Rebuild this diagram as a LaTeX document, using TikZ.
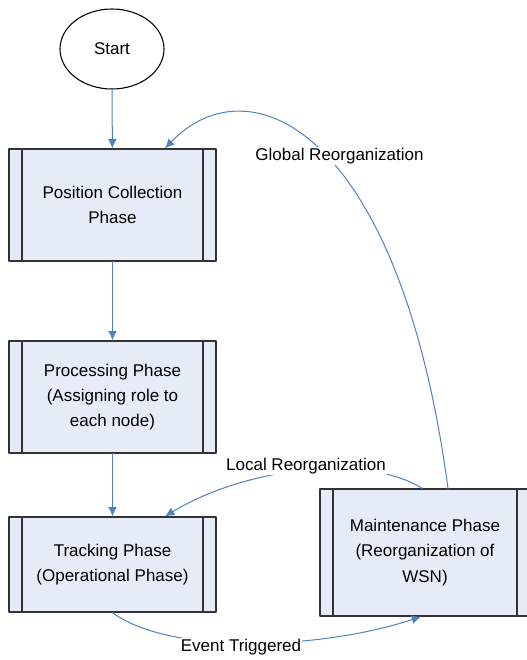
\documentclass[tikz,border=0pt]{standalone}
\usepackage{fontspec}
\setmainfont{Liberation Sans}
\usetikzlibrary{shapes.geometric,arrows.meta}
\definecolor{flowblue}{HTML}{4F81BD}
\definecolor{phasefill}{HTML}{E6ECF7}
\definecolor{phaseline}{HTML}{333333}
\newcommand{\phasefont}{\fontsize{12.75pt}{19pt}\selectfont}
\begin{document}
\begin{tikzpicture}[x=0.75pt,y=-0.75pt,line cap=round,line join=round,
  >={Latex[length=7pt,width=6.5pt]},
  phase/.style={draw=phaseline,fill=phasefill,line width=1pt,
    minimum width=155.25pt,inner sep=0pt,align=center,font=\phasefont,
    path picture={\draw[phaseline,line width=1pt]
      ([xshift=9.75pt]path picture bounding box.north west) --
      ([xshift=9.75pt]path picture bounding box.south west)
      ([xshift=-9.75pt]path picture bounding box.north east) --
      ([xshift=-9.75pt]path picture bounding box.south east);}},
  terminal/.style={draw,ellipse,line width=0.8pt,minimum width=78pt,
    minimum height=60pt,inner sep=0pt,font=\phasefont},
  flow/.style={draw=flowblue,line width=0.75pt,->},
  flowlabel/.style={fill=white,inner sep=1pt,font=\phasefont}]
  \useasboundingbox (0,0) rectangle (526,660);
  % flow nodes
  \node[terminal] (start) at (112,49) {Start};
  \node[phase,minimum height=84pt] (poscol) at (112.5,205)
    {Position Collection\\Phase};
  \node[phase,minimum height=84pt] (process) at (112.5,397)
    {Processing Phase\\(Assigning role to\\each node)};
  \node[phase,minimum height=71.25pt] (track) at (112.5,564.5)
    {Tracking Phase\\(Operational Phase)};
  \node[phase,minimum height=95.25pt,minimum width=157.5pt] (maint)
    at (425,552.5) {Maintenance Phase\\(Reorganization of\\WSN)};
  % straight connectors
  \draw[flow] (start) -- (poscol);
  \draw[flow] (poscol) -- (process);
  \draw[flow] (process) -- (track);
  % curved connectors
  \draw[flow] ([xshift=17.25pt]maint.north) .. controls (400,130) and (250,60)
    .. ([xshift=39.4pt]poscol.north);
  \draw[flow] ([xshift=-2.25pt]maint.north) .. controls (370,455) and (250,465)
    .. ([xshift=39.4pt]track.north);
  \draw[flow] (track.south) .. controls (170,655) and (320,650)
    .. ([xshift=-3pt]maint.south);
  % labels
  \node[flowlabel] (global) at (339.5,156) {Global Reorganization};
  \node[flowlabel] (local) at (306,466) {Local Reorganization};
  \node[flowlabel] (event) at (241,647) {Event Triggered};
\end{tikzpicture}
\end{document}
